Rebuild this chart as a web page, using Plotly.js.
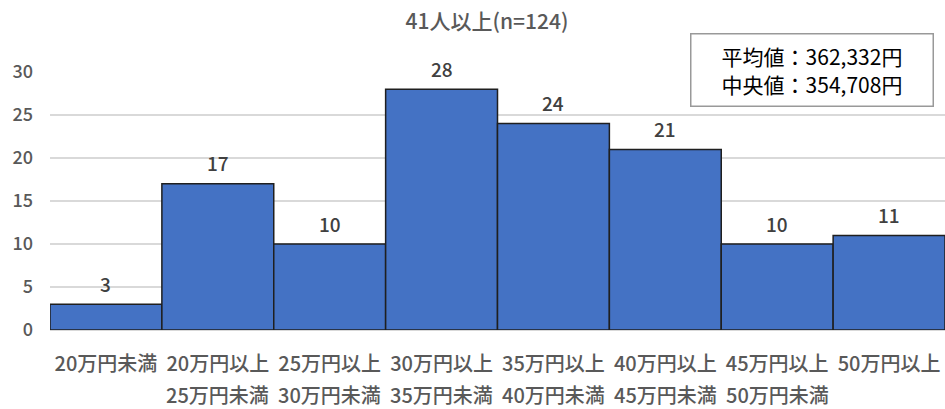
<!DOCTYPE html>
<html>
<head>
<meta charset="utf-8">
<script src="https://cdn.plot.ly/plotly-3.0.1.min.js"></script>
<style>html,body{margin:0;padding:0;background:#fff;}#chart{width:945px;height:409px;}</style>
</head>
<body>
<div id="chart"></div>
<script>
const labelsLine1 = ["20万円未満","20万円以上","25万円以上","30万円以上","35万円以上","40万円以上","45万円以上","50万円以上"];
const labelsLine2 = ["","25万円未満","30万円未満","35万円未満","40万円未満","45万円未満","50万円未満",""];
const counts = [3,17,10,28,24,21,10,11];
const titleText = "41人以上(n=124)";
const statsText = "平均値：362,332円<br>中央値：354,708円";

const FONT = "'Noto Sans CJK JP', 'Noto Sans', sans-serif";
const xIdx = counts.map((_, i) => i);

const trace = {
  type: 'bar',
  x: xIdx,
  y: counts,
  width: 1,
  marker: {color: '#4472C4', line: {color: '#1f1f1f', width: 1.5}},
  hoverinfo: 'none'
};

const annotations = [];
// value labels above bars
counts.forEach((v, i) => annotations.push({
  x: i, xref: 'x', y: v, yref: 'y', yshift: 21, text: String(v), showarrow: false,
  xanchor: 'center', yanchor: 'middle',
  font: {family: FONT, size: 19, weight: 500, color: '#404040'}
}));
// second line of category labels
labelsLine2.forEach((t, i) => {
  if (!t) return;
  annotations.push({
    x: i, xref: 'x', y: 0, yref: 'y', yshift: -64, text: t, showarrow: false,
    xanchor: 'center', yanchor: 'middle', borderpad: 0,
    font: {family: FONT, size: 20, weight: 500, color: '#595959'}
  });
});

annotations.push({
  xref: 'paper', yref: 'paper', x: 0.715, y: 1.151, xanchor: 'left', yanchor: 'top',
  text: statsText, showarrow: false, align: 'center',
  width: 235, height: 65, borderpad: 3,
  bordercolor: '#999999', borderwidth: 1.5, bgcolor: '#ffffff',
  font: {family: FONT, size: 21, color: '#000000'}
});

const layout = {
  width: 945, height: 409,
  margin: {l: 50, r: 0, t: 72, b: 79},
  paper_bgcolor: '#ffffff', plot_bgcolor: '#ffffff',
  showlegend: false,
  bargap: 0,
  title: {text: titleText, x: 0.4883, xref: 'paper', xanchor: 'center', y: 0.948, yref: 'container', yanchor: 'middle',
    font: {family: FONT, size: 21, weight: 500, color: '#595959'}},
  xaxis: {
    tickmode: 'array', tickvals: xIdx, ticktext: labelsLine1,
    range: [-0.5, 7.5], showgrid: false, zeroline: false, showline: false,
    ticks: '', ticklen: 0, tickangle: 0, ticklabelstandoff: 20,
    tickfont: {family: FONT, size: 20, weight: 500, color: '#595959'}
  },
  yaxis: {
    range: [0, 30], dtick: 5, tick0: 0,
    showgrid: true, gridcolor: '#d9d9d9', gridwidth: 1.5,
    zeroline: true, zerolinecolor: '#d9d9d9', zerolinewidth: 1.5,
    showline: false, ticks: '', ticklabelstandoff: 16,
    tickfont: {family: FONT, size: 18, weight: 500, color: '#595959'}
  },
  annotations: annotations
};

Plotly.newPlot('chart', [trace], layout, {staticPlot: true, displayModeBar: false});
</script>
</body>
</html>
